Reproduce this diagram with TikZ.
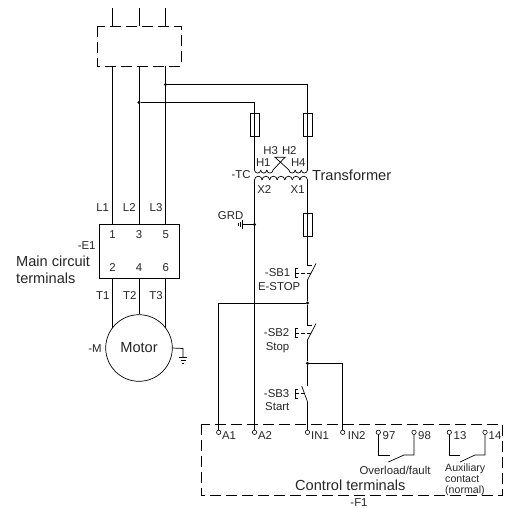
\documentclass[tikz,border=0pt]{standalone}
\usepackage{fontspec}
\setmainfont{Liberation Sans}
\tikzstyle{wire} = [line width=0.7pt, black]
\tikzstyle{dashbox} = [line width=0.7pt, dash pattern=on 11pt off 5pt]
\tikzstyle{fuse} = [rectangle, 
minimum width=9pt, 
minimum height=23pt, 
inner sep=0pt, 
line width=0.5pt, 
draw=black]
\tikzstyle{dot} = [circle, fill=black, inner sep=0pt, minimum size=3.4pt]
\tikzstyle{term} = [circle, draw=black, line width=0.6pt, fill=white, inner sep=0pt, minimum size=4.4pt]
\tikzstyle{small} = [inner sep=0pt, text=black!85, font=\fontsize{11.4}{13}\selectfont]
\tikzstyle{tiny} = [inner sep=0pt, text=black!85, font=\fontsize{10.6}{11}\selectfont]
\tikzstyle{big} = [inner sep=0pt, text=black!85, font=\fontsize{14.6}{17}\selectfont]
\begin{document}
\begin{tikzpicture}[x=1pt, y=-1pt]
\useasboundingbox (0,0) rectangle (505,508);

% supply
\coordinate (in1) at (112.5,8);
\coordinate (in2) at (139,8);
\coordinate (in3) at (165.5,8);
\coordinate (top1) at (112.5,26);
\coordinate (top2) at (139,26);
\coordinate (top3) at (165.5,26);
\coordinate (bot1) at (112.5,66);
\coordinate (bot2) at (139,66);
\coordinate (bot3) at (165.5,66);
\node (jun3) [dot] at (165.5,84.5) {};
\node (jun2) [dot] at (139,102.5) {};
\coordinate (cor3) at (307.5,84.5);
\coordinate (cor2) at (254.5,102.5);

% main circuit
\node (E1) [rectangle, draw=black, line width=0.7pt, minimum width=80pt, minimum height=54pt, inner sep=0pt] at (139,251.3) {};
\coordinate (E1a) at (112.5,224.3);
\coordinate (E1b) at (139,224.3);
\coordinate (E1c) at (165.5,224.3);
\coordinate (E1d) at (112.5,278.3);
\coordinate (E1e) at (139,278.3);
\coordinate (E1f) at (165.5,278.3);
\node (motor) [circle, draw=black, line width=0.7pt, minimum size=66.6pt, inner sep=0pt, big] at (139,348) {Motor};
\coordinate (mot1) at (112.5,327.8);
\coordinate (mot3) at (165.5,327.8);
\coordinate (gnd1) at (183,348.5);
\coordinate (gnd2) at (183,357.7);

\node (L1) [small] at (102.7,208) {L1};
\node (L2) [small] at (129.3,208) {L2};
\node (L3) [small] at (156,208) {L3};
\node (T1) [small] at (102.7,296) {T1};
\node (T2) [small] at (129.7,296) {T2};
\node (T3) [small] at (156,296) {T3};
\node (n1) [small] at (112.5,235) {1};
\node (n3) [small] at (139,235) {3};
\node (n5) [small] at (165.7,235) {5};
\node (n2) [small] at (112.5,268) {2};
\node (n4) [small] at (139,268) {4};
\node (n6) [small] at (165.7,268) {6};
\node (nameE) [small] at (86.7,246) {-E1};
\node (main) [big, anchor=west, align=left] at (16,269.5) {Main circuit\\terminals};
\node (nameM) [small] at (95,349) {-M};

% transformer
\node (fuse1) [fuse] at (254.5,125) {};
\node (fuse2) [fuse] at (307.5,125) {};
\node (fuse3) [fuse] at (307.5,224.5) {};
\coordinate (pri1) at (254.5,170);
\coordinate (pri2) at (273,170);
\coordinate (pri3) at (289,170);
\coordinate (pri4) at (307.5,170);
\coordinate (sec1) at (254.5,180);
\coordinate (sec2) at (307.5,180);
\coordinate (crossa) at (285,157.3);
\coordinate (crossb) at (275,157.3);
\node (H3) [small] at (270.7,150.7) {H3};
\node (H2) [small] at (289.3,150.7) {H2};
\node (H1) [small] at (263.3,162.3) {H1};
\node (H4) [small] at (298.3,162.3) {H4};
\node (X2) [small] at (264.3,190) {X2};
\node (X1) [small] at (297.7,190) {X1};
\node (nameT) [small] at (241,175) {-TC};
\node (trafo) [big, anchor=west] at (312,175) {Transformer};

% ground of X2
\node (jung) [dot] at (254.5,224.5) {};
\coordinate (grd) at (242.7,224.5);
\node (GRD) [small, anchor=east] at (243.5,216) {GRD};

% push buttons
\coordinate (sb1a) at (307.5,265);
\coordinate (sb1b) at (311.5,265);
\coordinate (sb1c) at (316,263.5);
\coordinate (sb1d) at (307.5,280);
\coordinate (sb1f) at (311.5,273);
\node (jun4) [dot] at (307.5,303) {};
\coordinate (cor4) at (218.7,303);
\coordinate (sb2a) at (307.5,325);
\coordinate (sb2b) at (311.5,325);
\coordinate (sb2c) at (316,323.5);
\coordinate (sb2d) at (307.5,340);
\coordinate (sb2f) at (311.5,333);
\node (jun5) [dot] at (307.5,363.3) {};
\coordinate (cor5) at (342.7,363.3);
\coordinate (sb3a) at (307.5,386);
\coordinate (sb3b) at (301.7,386);
\coordinate (sb3d) at (307.5,401.7);
\coordinate (sb3f) at (304.5,393.5);
\node (nameS1) [small, anchor=east] at (290.5,272.5) {-SB1};
\node (estop) [small, anchor=east] at (300.5,286.7) {E-STOP};
\node (nameS2) [small, anchor=east] at (289.5,333) {-SB2};
\node (stop) [small, anchor=east] at (289.5,348) {Stop};
\node (nameS3) [small, anchor=east] at (289.5,394) {-SB3};
\node (start) [small, anchor=east] at (289.5,406.7) {Start};

% control terminals
\node (A1) [term] at (218.7,432.3) {};
\node (A2) [term] at (254.5,432.3) {};
\node (IN1) [term] at (307.5,432.3) {};
\node (IN2) [term] at (342.7,432.3) {};
\node (t97) [term] at (378.3,432.3) {};
\node (t98) [term] at (414,432.3) {};
\node (t13) [term] at (449.3,432.3) {};
\node (t14) [term] at (485,432.3) {};
\node (labA1) [small] at (229,435.5) {A1};
\node (labA2) [small] at (265,435.5) {A2};
\node (labIN1) [small] at (320,435.5) {IN1};
\node (labIN2) [small] at (356.7,435.5) {IN2};
\node (lab97) [small] at (389,435.5) {97};
\node (lab98) [small] at (424.5,435.5) {98};
\node (lab13) [small] at (460,435.5) {13};
\node (lab14) [small] at (495,435.5) {14};
\coordinate (ov1) at (378.3,455);
\coordinate (ov2) at (390,455);
\coordinate (ov3) at (388.3,462);
\coordinate (ov4) at (404,455);
\coordinate (ov5) at (414,455);
\coordinate (au1) at (449.3,455);
\coordinate (au2) at (460,455);
\coordinate (au3) at (460,462);
\coordinate (au4) at (475,455);
\coordinate (au5) at (485,455);
\node (over) [small] at (395,470.7) {Overload/fault};
\node (aux) [tiny, anchor=west, align=left] at (445,479.3) {Auxiliary\\contact\\(normal)};
\node (ctrl) [big, anchor=west] at (295,485) {Control terminals};
\node (nameF) [small] at (359,503) {-F1};

% wires
\draw [dashbox] (97,26) rectangle (181,66);
\draw [wire] (in1) -- (top1);
\draw [wire] (in2) -- (top2);
\draw [wire] (in3) -- (top3);
\draw [wire] (bot1) -- (E1a);
\draw [wire] (bot2) -- (E1b);
\draw [wire] (bot3) -- (E1c);
\draw [wire] (E1d) -- (mot1);
\draw [wire] (E1e) -- (motor);
\draw [wire] (E1f) -- (mot3);
\draw [wire] (jun3) -- (cor3) -- (pri4);
\draw [wire] (jun2) -- (cor2) -- (pri1);
\draw [wire] (motor.east) -- (gnd1) -- (gnd2);
\draw [wire] (179,357.7) -- (187,357.7);
\draw [wire] (180.5,360.6) -- (185.5,360.6);
\draw [wire] (182,363.2) -- (184,363.2);

\foreach \x in {0,1,2} {
\draw [wire] (254.5+6.17*\x,170) arc[start angle=180, end angle=0, radius=3.08];
\draw [wire] (289+6.17*\x,170) arc[start angle=180, end angle=0, radius=3.08];
}
\foreach \x in {0,...,6} {
\draw [wire] (254.5+7.57*\x,180) arc[start angle=180, end angle=360, radius=3.785];
}
\draw [wire] (pri2) -- (crossa) -- (crossb) -- (pri3);
\draw [wire] (sec1) -- (A2);
\draw [wire] (sec2) -- (sb1a) -- (sb1b);
\draw [wire] (jung) -- (grd);
\draw [wire] (242.7,220.3) -- (242.7,228.7);
\draw [wire] (240.3,221.8) -- (240.3,227.2);
\draw [wire] (238.3,223.3) -- (238.3,225.7);

\draw [wire] (sb1d) -- (sb1c);
\draw [wire] (sb1d) -- (jun4);
\draw [wire] (jun4) -- (cor4) -- (A1);
\draw [wire] (jun4) -- (sb2a) -- (sb2b);
\draw [wire] (sb2d) -- (sb2c);
\draw [wire] (sb2d) -- (jun5);
\draw [wire] (jun5) -- (cor5) -- (IN2);
\draw [wire] (jun5) -- (sb3a);
\draw [wire] (sb3b) -- (sb3d);
\draw [wire] (sb3d) -- (IN1);

\foreach \y/\w in {273/sb1f,333/sb2f,393.5/sb3f} {
\draw [wire, line width=0.5pt] (297.5,\y-4.5) -- (295,\y-4.5) -- (295,\y+4.5) -- (297.5,\y+4.5);
\draw [wire, line width=0.5pt, dash pattern=on 3.5pt off 2.5pt] (295,\y) -- (\w);
}

\draw [dashbox] (201.7,424) rectangle (502,495.7);
\draw [wire] (t97) -- (ov1) -- (ov2);
\draw [wire] (ov3) -- (ov4) -- (ov5) -- (t98);
\draw [wire] (t13) -- (au1) -- (au2);
\draw [wire] (au3) -- (au4) -- (au5) -- (t14);

\end{tikzpicture}
\end{document}
